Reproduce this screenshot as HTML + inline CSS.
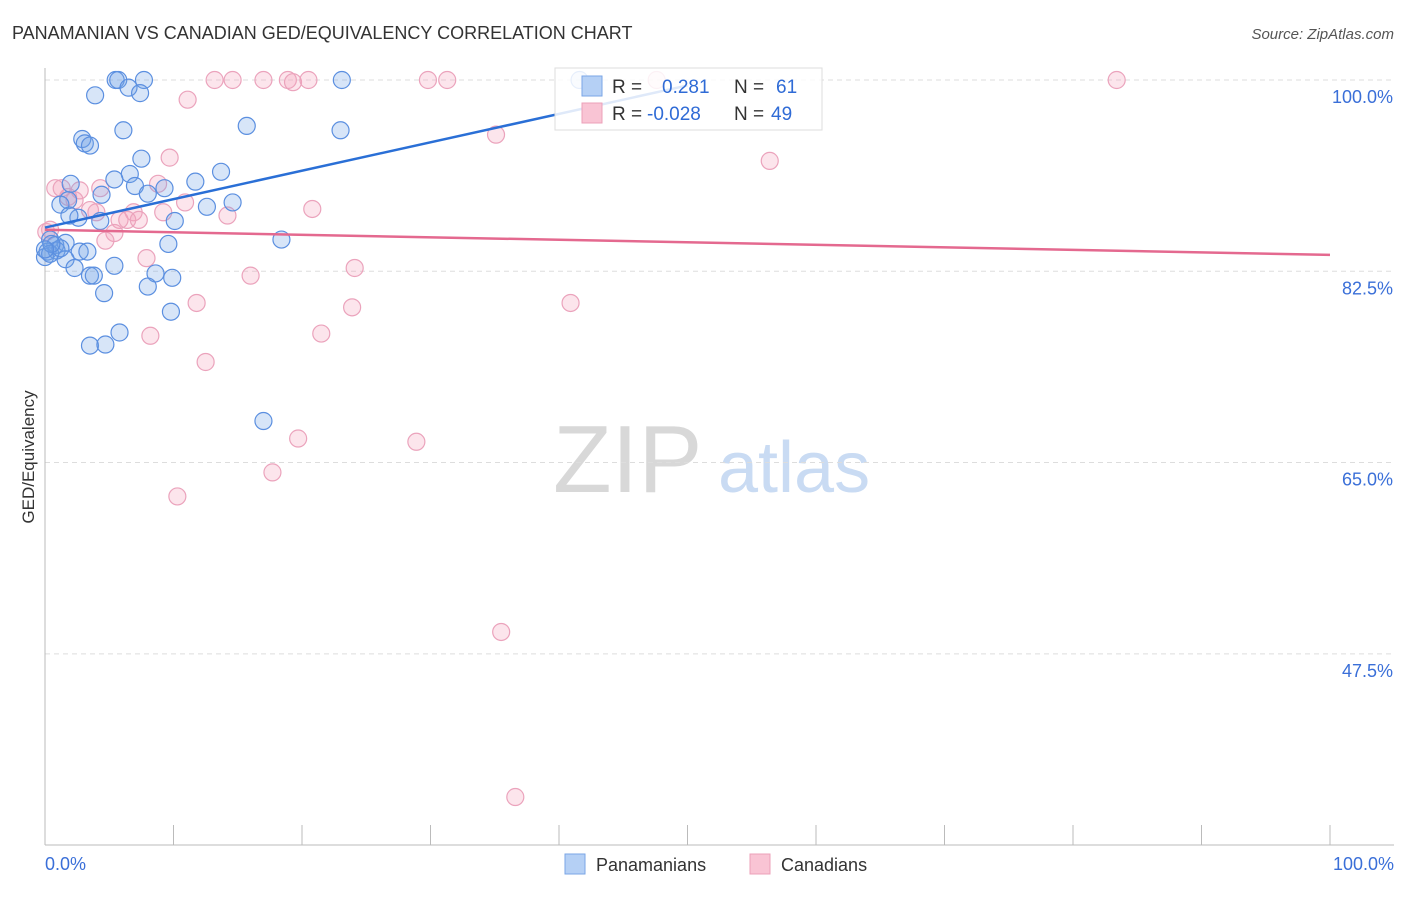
<!DOCTYPE html>
<html><head><meta charset="utf-8"><style>
body{margin:0;background:#fff;font-family:"Liberation Sans",sans-serif}
svg text{font-family:"Liberation Sans",sans-serif}
</style></head><body>
<svg id="chart" width="1406" height="892" xmlns="http://www.w3.org/2000/svg">
<text x="12" y="39" font-size="18" fill="#333">PANAMANIAN VS CANADIAN GED/EQUIVALENCY CORRELATION CHART</text>
<text x="1394" y="39" font-size="15" fill="#555" text-anchor="end" font-style="italic">Source: ZipAtlas.com</text>
<text transform="translate(34,457) rotate(-90)" font-size="17" fill="#333" text-anchor="middle">GED/Equivalency</text>
<g>
<text x="553" y="492" font-size="96" fill="#d8d8d8" font-family="Liberation Serif,serif">ZIP</text>
<text x="718" y="492" font-size="72" fill="#c9dbf3">atlas</text>
</g>
<g id="grid"></g><g id="axes"></g><g id="pts"></g><g id="trends"></g>
<g>
<rect x="555" y="68" width="267" height="62" fill="#fff" fill-opacity="0.85" stroke="#ddd"/>
<rect x="582" y="76" width="20" height="20" fill="#b5d0f5" stroke="#7aa6e6"/>
<rect x="582" y="103" width="20" height="20" fill="#f9c4d4" stroke="#eca0b9"/>
<text x="612" y="93" font-size="19" fill="#333">R =</text><text x="662" y="93" font-size="19" fill="#2f6bd6">0.281</text>
<text x="734" y="93" font-size="19" fill="#333">N =</text><text x="776" y="93" font-size="19" fill="#2f6bd6">61</text>
<text x="612" y="120" font-size="19" fill="#333">R =</text><text x="647" y="120" font-size="19" fill="#2f6bd6">-0.028</text>
<text x="734" y="120" font-size="19" fill="#333">N =</text><text x="771" y="120" font-size="19" fill="#2f6bd6">49</text>
</g>
<g>
<rect x="565" y="854" width="20" height="20" fill="#b5d0f5" stroke="#7aa6e6"/>
<text x="596" y="871" font-size="18" fill="#333">Panamanians</text>
<rect x="750" y="854" width="20" height="20" fill="#f9c4d4" stroke="#eca0b9"/>
<text x="781" y="871" font-size="18" fill="#333">Canadians</text>
</g>
</svg>
<script>
const yTicks=[100,82.5,65,47.5];
const yTickLabels=["100.0%","82.5%","65.0%","47.5%"];
const xTickLabels=["0.0%","100.0%"];
const blueX=[5.5,5.7,7.7,23.1,41.6,3.9,6.5,7.4,6.1,15.7,23.0,2.9,3.1,3.5,7.5,13.7,6.6,5.4,11.7,7.0,9.3,8.0,2.0,4.4,1.8,1.2,12.6,14.6,2.6,1.9,4.3,10.1,0.4,0.8,1.6,9.6,18.4,2.7,0.2,0.9,0,1.6,2.3,5.4,3.5,3.8,8.6,9.9,8.0,4.6,9.8,5.8,3.5,4.7,17.0,0.4,1.2,0.5,0,3.3];
const blueY=[100,100,100,100,100,98.6,99.3,98.8,95.4,95.8,95.4,94.6,94.2,94.0,92.8,91.6,91.4,90.9,90.7,90.3,90.1,89.6,90.5,89.5,89.0,88.6,88.4,88.8,87.4,87.6,87.1,87.1,85.4,84.9,85.1,85.0,85.4,84.3,84.3,84.4,83.8,83.6,82.8,83.0,82.1,82.1,82.3,81.9,81.1,80.5,78.8,76.9,75.7,75.8,68.8,84.1,84.6,85.0,84.5,84.3];
const pinkX=[13.2,14.6,17.0,18.9,19.3,20.5,29.8,31.3,47.6,83.4,11.1,35.1,56.4,9.7,0.8,1.3,4.3,2.7,8.8,2.3,1.8,10.9,3.5,4.0,6.9,9.2,14.2,20.8,5.8,6.4,7.3,5.4,4.7,0.4,0.1,7.9,16.0,24.1,11.8,23.9,40.9,8.2,21.5,12.5,19.7,28.9,17.7,10.3,35.5,36.6];
const pinkY=[100,100,100,100,99.8,100,100,100,100,100,98.2,95.0,92.6,92.9,90.1,90.1,90.1,89.9,90.5,89.0,89.3,88.8,88.1,87.9,87.9,87.9,87.6,88.2,87.2,87.2,87.2,86.0,85.3,86.3,86.1,83.7,82.1,82.8,79.6,79.2,79.6,76.6,76.8,74.2,67.2,66.9,64.1,61.9,49.5,34.4];
const blueTrend=[[0,86.5],[50,99.5]];
const pinkTrend=[[0,86.3],[100,84.0]];
const NS="http://www.w3.org/2000/svg";
const X=v=>45+v*12.85, Y=v=>80+(100-v)*10.93;
function mk(t,a,p){const e=document.createElementNS(NS,t);for(const k in a)e.setAttribute(k,a[k]);document.getElementById(p).appendChild(e);return e;}
yTicks.forEach((t,i)=>{
 const l=mk('line',{x1:45,x2:1394,y1:Y(t),y2:Y(t),stroke:'#ddd','stroke-dasharray':'5,4'},'grid');
 
 
 const tx=mk('text',{x:1393,y:Y(t)+23,'font-size':18,fill:'#3a6fd8','text-anchor':'end'},'grid');tx.textContent=yTickLabels[i];
 
 
});
const ax=mk('line',{x1:45,x2:45,y1:68,y2:845,stroke:'#bbb'},'axes');


const bx=mk('line',{x1:45,x2:1394,y1:845,y2:845,stroke:'#bbb'},'axes');


for(let i=1;i<=10;i++){const t=mk('line',{x1:X(i*10),x2:X(i*10),y1:825,y2:845,stroke:'#bbb'},'axes');
 
 }
[[0,'start',45],[100,'end',1394]].forEach((d,i)=>{const t=mk('text',{x:d[2],y:870,'font-size':18,fill:'#3a6fd8','text-anchor':d[1]},'axes');t.textContent=xTickLabels[i];
 
 });
function pts(xs,ys,fill,stroke,name){xs.forEach((x,i)=>{const c=mk('circle',{cx:X(x),cy:Y(ys[i]),r:8.5,fill:fill,stroke:stroke,'stroke-width':1.2},'pts');
 
 });}
pts(pinkX,pinkY,'rgba(244,160,188,0.28)','#eba3bc','point-canadian');
pts(blueX,blueY,'rgba(110,160,230,0.28)','#5b8fe0','point-panamanian');
const bt=mk('line',{x1:X(blueTrend[0][0]),y1:Y(blueTrend[0][1]),x2:X(blueTrend[1][0]),y2:Y(blueTrend[1][1]),stroke:'#2a6fd6','stroke-width':2.5},'trends');


const pt=mk('line',{x1:X(pinkTrend[0][0]),y1:Y(pinkTrend[0][1]),x2:X(pinkTrend[1][0]),y2:Y(pinkTrend[1][1]),stroke:'#e4698f','stroke-width':2.5},'trends');


</script>
</body></html>
